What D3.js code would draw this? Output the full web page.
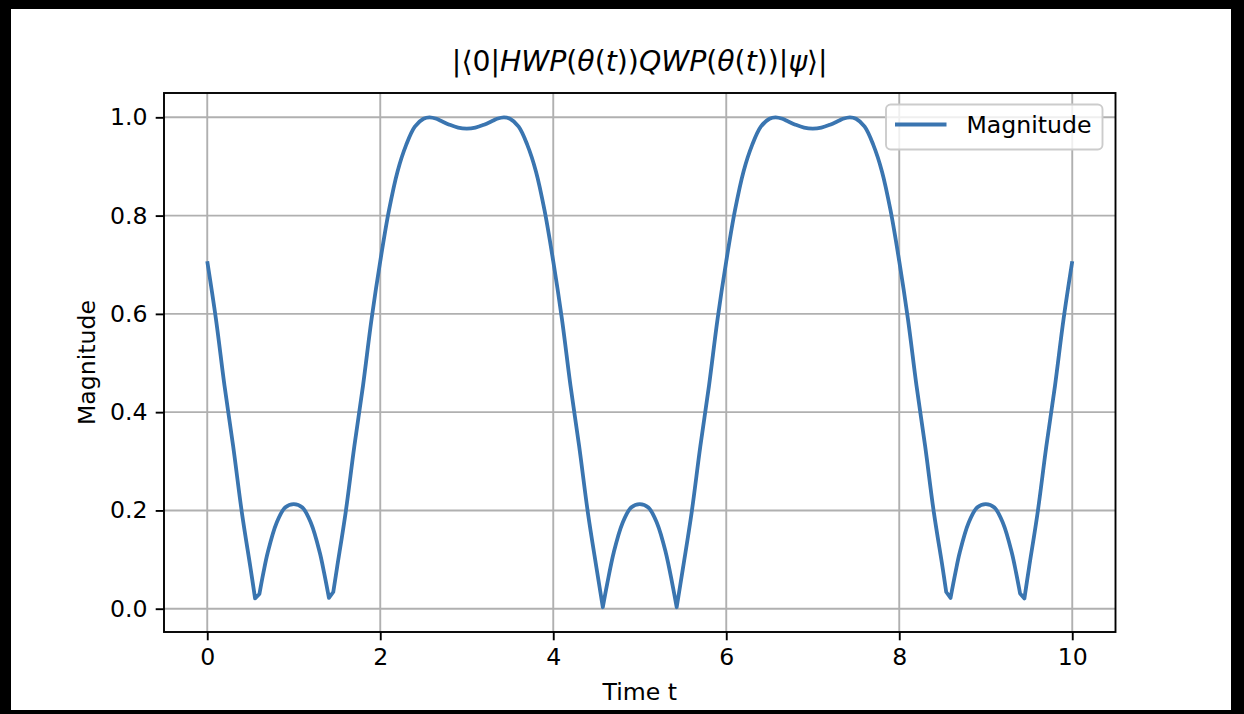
<!DOCTYPE html>
<html><head><meta charset="utf-8">
<script src="https://cdn.jsdelivr.net/npm/d3@7"></script>
<style>body{margin:0;background:#000}svg{display:block}</style>
</head><body><svg id="c" width="1244" height="714"></svg>
<script>
// ---- data ----
const timeT = [
  0, 0.1, 0.2, 0.3, 0.4, 0.5, 0.553, 0.603, 0.65, 0.7, 0.8, 0.9, 1.0, 1.1, 1.2, 1.3, 1.35, 1.407, 1.457, 1.5, 1.6, 1.7, 1.8, 1.9, 2.0,
  2.1, 2.2, 2.3, 2.4, 2.5, 2.57, 2.65, 2.7, 2.8, 2.9, 3.0, 3.1, 3.2, 3.3, 3.35, 3.43, 3.5, 3.6, 3.7, 3.8, 3.9, 4.0,
  4.1, 4.2, 4.3, 4.4, 4.5, 4.573, 4.623, 4.7, 4.8, 4.9, 5.0, 5.1, 5.2, 5.3, 5.377, 5.427, 5.5, 5.6, 5.7, 5.8, 5.9, 6.0,
  6.1, 6.2, 6.3, 6.4, 6.5, 6.57, 6.65, 6.7, 6.8, 6.9, 7.0, 7.1, 7.2, 7.3, 7.35, 7.43, 7.5, 7.6, 7.7, 7.8, 7.9, 8.0,
  8.1, 8.2, 8.3, 8.4, 8.5, 8.543, 8.593, 8.65, 8.7, 8.8, 8.9, 9.0, 9.1, 9.2, 9.3, 9.35, 9.397, 9.447, 9.5, 9.6, 9.7, 9.8, 9.9, 10.0
];
const magnitude = [
  0.707, 0.59, 0.453, 0.33, 0.196, 0.083, 0.021, 0.030, 0.074, 0.115, 0.174, 0.206, 0.213, 0.206, 0.174, 0.115, 0.074, 0.022, 0.034, 0.083, 0.196, 0.33, 0.453, 0.59, 0.707,
  0.81, 0.89, 0.944, 0.981, 0.997, 1.0, 0.997, 0.993, 0.985, 0.979, 0.977, 0.979, 0.985, 0.993, 0.997, 1.0, 0.997, 0.981, 0.944, 0.89, 0.81, 0.707,
  0.59, 0.453, 0.33, 0.196, 0.083, 0.003, 0.05, 0.115, 0.174, 0.206, 0.213, 0.206, 0.174, 0.115, 0.05, 0.003, 0.083, 0.196, 0.33, 0.453, 0.59, 0.707,
  0.81, 0.89, 0.944, 0.981, 0.997, 1.0, 0.997, 0.993, 0.985, 0.979, 0.977, 0.979, 0.985, 0.993, 0.997, 1.0, 0.997, 0.981, 0.944, 0.89, 0.81, 0.707,
  0.59, 0.453, 0.33, 0.196, 0.085, 0.034, 0.022, 0.074, 0.115, 0.174, 0.206, 0.213, 0.206, 0.174, 0.115, 0.074, 0.031, 0.021, 0.083, 0.196, 0.33, 0.453, 0.59, 0.707
];
const xTicks = [0, 2, 4, 6, 8, 10];
const yTicks = [0.0, 0.2, 0.4, 0.6, 0.8, 1.0];
const seriesName = "Magnitude";
const xLabel = "Time t";
const yLabel = "Magnitude";

// ---- drawing ----
const svg = d3.select("#c");
const FONT = "DejaVu Sans, sans-serif";
const FS = 23.6;
const lineColor = "#3a75b0";

const L = 164, R = 1115.5, T = 93, B = 632;
const x = d3.scaleLinear().domain([-0.5, 10.5]).range([L, R]);
const y = d3.scaleLinear().domain([-0.0474, 1.0495]).range([B, T]);

// frame
svg.append("rect").attr("x", 0).attr("y", 0).attr("width", 1244).attr("height", 714).attr("fill", "#000");
svg.append("rect").attr("x", 11).attr("y", 9).attr("width", 1220).attr("height", 701).attr("fill", "#fff");

// grid
const grid = svg.append("g").attr("stroke", "#b0b0b0").attr("stroke-width", 1.9);
grid.selectAll("line.v").data(xTicks).join("line")
  .attr("x1", d => x(d)).attr("x2", d => x(d)).attr("y1", T).attr("y2", B);
grid.selectAll("line.h").data(yTicks).join("line")
  .attr("y1", d => y(d)).attr("y2", d => y(d)).attr("x1", L).attr("x2", R);

// data line: smooth runs, sharp kinks at the near-zero samples
const pts = timeT.map((t, i) => ({t, v: magnitude[i]}));
const runs = [];
let cur = [pts[0]];
for (let i = 1; i < pts.length; i++) {
  cur.push(pts[i]);
  if (pts[i].v < 0.04 && i < pts.length - 1) { runs.push(cur); cur = [pts[i]]; }
}
runs.push(cur);
const gen = d3.line().curve(d3.curveCatmullRom.alpha(0.5)).x(d => x(d.t)).y(d => y(d.v));
const dStr = runs.map((r, k) => {
  const s = gen(r);
  return k === 0 ? s : s.replace(/^M[^CLZ]*/, "");
}).join("");
svg.append("clipPath").attr("id", "clp").append("rect")
  .attr("x", L).attr("y", T).attr("width", R - L).attr("height", B - T);
svg.append("path")
  .attr("clip-path", "url(#clp)")
  .attr("fill", "none").attr("stroke", lineColor).attr("stroke-width", 3.8)
  .attr("stroke-linejoin", "round").attr("stroke-linecap", "butt")
  .attr("d", dStr);

// axes
const xAxis = svg.append("g").attr("transform", `translate(0,${B})`)
  .call(d3.axisBottom(x).tickValues(xTicks).tickFormat(d3.format("d")).tickSize(8.3).tickPadding(8.3));
const yAxis = svg.append("g").attr("transform", `translate(${L},0)`)
  .call(d3.axisLeft(y).tickValues(yTicks).tickFormat(d3.format(".1f")).tickSize(8.3).tickPadding(8.3));
[xAxis, yAxis].forEach(g => {
  g.select(".domain").remove();
  g.selectAll(".tick line").attr("stroke", "#000").attr("stroke-width", 1.9);
  g.selectAll(".tick text").attr("fill", "#000").style("font-family", FONT).style("font-size", FS + "px");
});

// spines
svg.append("rect").attr("x", L).attr("y", T).attr("width", R - L).attr("height", B - T)
  .attr("fill", "none").attr("stroke", "#000").attr("stroke-width", 1.9);

// labels
svg.append("text").attr("x", (L + R) / 2).attr("y", 700).attr("text-anchor", "middle")
  .style("font-family", FONT).style("font-size", FS + "px").text(xLabel);
svg.append("text").attr("transform", `translate(95,${(T + B) / 2}) rotate(-90)`).attr("text-anchor", "middle")
  .style("font-family", FONT).style("font-size", FS + "px").text(yLabel);

// title (mathtext-like)
const title = svg.append("text").attr("x", (L + R) / 2).attr("y", 71).attr("text-anchor", "middle")
  .style("font-family", FONT).style("font-size", "28.3px");
const parts = [
  ["|\u27E80|", false], ["HWP", true], ["(", false], ["\u03B8", true], ["(", false], ["t", true], ["))", false],
  ["QWP", true], ["(", false], ["\u03B8", true], ["(", false], ["t", true], ["))|", false], ["\u03C8", true], ["\u27E9|", false]
];
parts.forEach(([s, it]) => title.append("tspan").style("font-style", it ? "italic" : "normal").text(s));

// legend
const lg = svg.append("g");
lg.append("rect").attr("x", 886).attr("y", 104.5).attr("width", 216.5).attr("height", 45).attr("rx", 4.7)
  .attr("fill", "#fff").attr("fill-opacity", 0.8).attr("stroke", "#cccccc").attr("stroke-width", 1.9);
lg.append("line").attr("x1", 895).attr("x2", 946.5).attr("y1", 124.5).attr("y2", 124.5)
  .attr("stroke", lineColor).attr("stroke-width", 3.8);
lg.append("text").attr("x", 966.5).attr("y", 133).style("font-family", FONT).style("font-size", FS + "px").text(seriesName);
</script></body></html>
